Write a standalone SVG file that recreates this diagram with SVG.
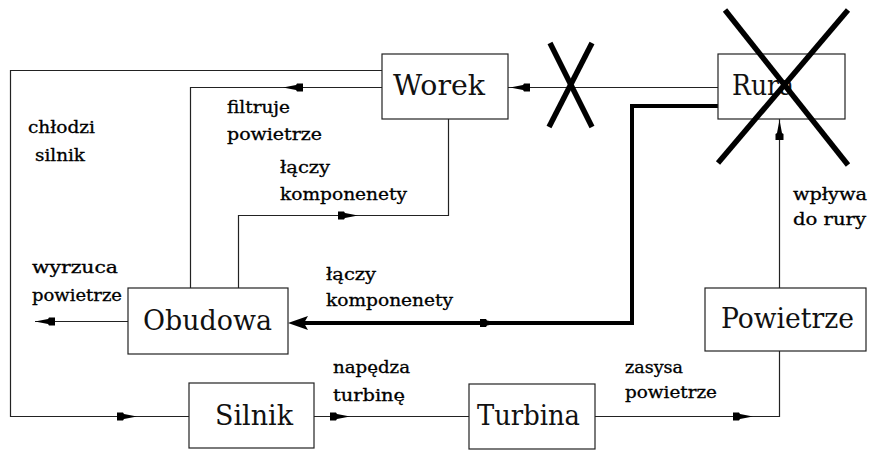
<svg xmlns="http://www.w3.org/2000/svg" width="873" height="450" viewBox="0 0 873 450">
<style>
.box{fill:#fff;stroke:#222;stroke-width:1.2}
.bt{font-family:"DejaVu Serif",serif;font-size:28px;fill:#111}
.lb{font-family:"DejaVu Serif",serif;font-size:16px;fill:#000;stroke:#000;stroke-width:0.3}
.ln{fill:none;stroke:#222;stroke-width:1.2}
.thick{fill:none;stroke:#000;stroke-width:4;stroke-linejoin:miter}
.cross{stroke:#000;stroke-width:5.5;stroke-linecap:butt}
.ah{fill:#000}
</style>
<defs>
<path id="ah" class="ah" d="M0,0 L-13,-2.5 L-14,-4 L-20,-4 L-20,4 L-14,4 L-13,2.5 Z"/>
<path id="bigah" class="ah" d="M0,0 L-20,-7 L-16,0 L-20,7 Z"/>
</defs>
<g id="connectors">
<path class="ln" d="M382,70.5 H10.5 V416.5 H189"/>
<path class="ln" d="M382,87.5 H190.5 V288"/>
<path class="ln" d="M238.5,288 V215.5 H448.5 V119"/>
<path class="ln" d="M718,87.5 H508"/>
<path class="thick" d="M718,106 H632 V323 H296"/>
<path class="ln" d="M128,321.5 H35"/>
<path class="ln" d="M314,416.5 H469"/>
<path class="ln" d="M595,416.5 H779.5 V351"/>
<path class="ln" d="M779.5,288 V119"/>
<use href="#ah" transform="translate(283,87.5) rotate(180)"/>
<use href="#ah" transform="translate(510,87.5) rotate(180)"/>
<use href="#ah" transform="translate(358,215.5)"/>
<use href="#ah" transform="translate(35,321.5) rotate(180)"/>
<use href="#bigah" transform="translate(288,323) rotate(180)"/>
<use href="#ah" transform="translate(500,323)"/>
<use href="#ah" transform="translate(137,416.5)"/>
<use href="#ah" transform="translate(350,416.5)"/>
<use href="#ah" transform="translate(753,416.5)"/>
<use href="#ah" transform="translate(779.5,120) rotate(-90)"/>
<text class="lb" x="28" y="133" textLength="67" lengthAdjust="spacingAndGlyphs">chłodzi</text>
<text class="lb" x="35" y="161" textLength="50" lengthAdjust="spacingAndGlyphs">silnik</text>
<text class="lb" x="227" y="113" textLength="63" lengthAdjust="spacingAndGlyphs">filtruje</text>
<text class="lb" x="227" y="140" textLength="95" lengthAdjust="spacingAndGlyphs">powietrze</text>
<text class="lb" x="280" y="173" textLength="50" lengthAdjust="spacingAndGlyphs">łączy</text>
<text class="lb" x="280" y="200" textLength="127" lengthAdjust="spacingAndGlyphs">komponenety</text>
<text class="lb" x="32" y="273" textLength="86" lengthAdjust="spacingAndGlyphs">wyrzuca</text>
<text class="lb" x="32" y="301" textLength="90" lengthAdjust="spacingAndGlyphs">powietrze</text>
<text class="lb" x="326" y="280" textLength="50" lengthAdjust="spacingAndGlyphs">łączy</text>
<text class="lb" x="326" y="306" textLength="127" lengthAdjust="spacingAndGlyphs">komponenety</text>
<text class="lb" x="333" y="373" textLength="77" lengthAdjust="spacingAndGlyphs">napędza</text>
<text class="lb" x="333" y="401" textLength="72" lengthAdjust="spacingAndGlyphs">turbinę</text>
<text class="lb" x="625" y="373" textLength="58" lengthAdjust="spacingAndGlyphs">zasysa</text>
<text class="lb" x="625" y="398" textLength="92" lengthAdjust="spacingAndGlyphs">powietrze</text>
<text class="lb" x="793" y="200" textLength="74" lengthAdjust="spacingAndGlyphs">wpływa</text>
<text class="lb" x="793" y="225" textLength="73" lengthAdjust="spacingAndGlyphs">do rury</text>
</g>
<g id="worek">
<rect class="box" x="382" y="54" width="126" height="65"/>
<text class="bt" x="393" y="95" textLength="92" lengthAdjust="spacingAndGlyphs">Worek</text>
</g>
<g id="rura">
<rect class="box" x="718" y="54" width="127" height="65"/>
<text class="bt" x="732" y="95" textLength="62" lengthAdjust="spacingAndGlyphs">Rura</text>
</g>
<g id="obudowa">
<rect class="box" x="128" y="288" width="160" height="66"/>
<text class="bt" x="143" y="330" textLength="129" lengthAdjust="spacingAndGlyphs">Obudowa</text>
</g>
<g id="powietrze">
<rect class="box" x="705" y="288" width="161" height="63"/>
<text class="bt" x="721" y="328" textLength="133" lengthAdjust="spacingAndGlyphs">Powietrze</text>
</g>
<g id="silnik">
<rect class="box" x="189" y="383" width="125" height="65"/>
<text class="bt" x="215" y="425" textLength="78" lengthAdjust="spacingAndGlyphs">Silnik</text>
</g>
<g id="turbina">
<rect class="box" x="469" y="384" width="126" height="65"/>
<text class="bt" x="477" y="425" textLength="103" lengthAdjust="spacingAndGlyphs">Turbina</text>
</g>
<g id="crosses">
<line class="cross" x1="550" y1="43" x2="592" y2="127"/>
<line class="cross" x1="592" y1="43" x2="549" y2="127"/>
<line class="cross" x1="725" y1="10" x2="848" y2="165"/>
<line class="cross" x1="848" y1="10" x2="718" y2="163"/>
</g>
</svg>
